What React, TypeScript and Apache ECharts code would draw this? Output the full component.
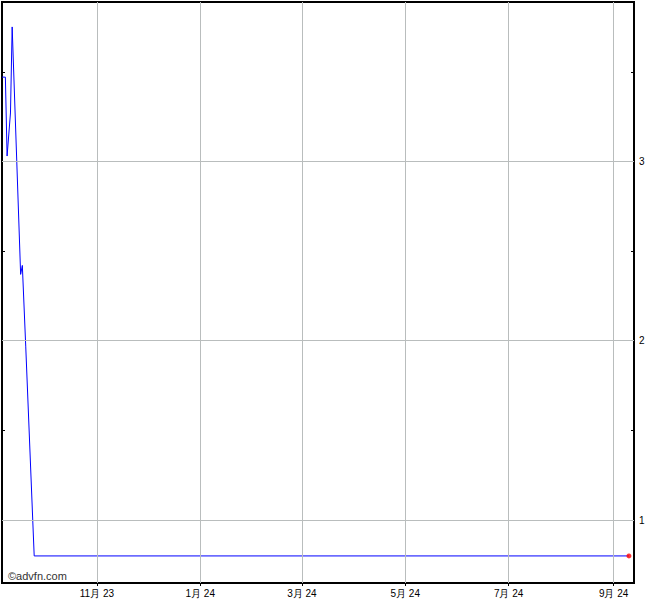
import React, { useEffect, useRef } from "react";
import * as echarts from "echarts";

// Price path (date, value)
const dates: string[] = [
  "2023-09-06", "2023-09-08", "2023-09-09", "2023-09-11", "2023-09-12",
  "2023-09-17", "2023-09-18", "2023-09-20", "2023-09-25", "2024-09-10",
];
const prices: number[] = [3.47, 3.47, 3.03, 3.27, 3.75, 2.37, 2.42, 1.97, 0.8, 0.8];

// Axis ticks
const xTickDates: string[] = ["2023-11-01", "2024-01-01", "2024-03-01", "2024-05-01", "2024-07-01", "2024-09-01"];
const yLabelValues: number[] = [1, 2, 3];
const yTickValues: number[] = [1, 1.5, 2, 2.5, 3, 3.5];
const xRange: string[] = ["2023-09-06", "2024-09-13"];
const yRange: number[] = [0.649, 3.889];

const ts = (d: string) => new Date(d + "T00:00:00Z").getTime();

export default function App() {
  const ref = useRef<HTMLDivElement>(null);
  useEffect(() => {
    if (!ref.current) return;
    const chart = echarts.init(ref.current, null, { renderer: "svg" });
    const lineData = dates.map((d, i) => [ts(d), prices[i]]);
    const last = lineData[lineData.length - 1];
    const xTicks = xTickDates.map(ts);
    const gridColor = "#b9bdbd";
    const font = "Liberation Sans, Arial, sans-serif";
    chart.setOption({
      animation: false,
      backgroundColor: "#fff",
      grid: {
        left: 2,
        right: 36,
        top: 2,
        bottom: 17,
        show: true,
        borderColor: "#000",
        borderWidth: 2,
        backgroundColor: "transparent",
      },
      xAxis: {
        type: "value",
        min: ts(xRange[0]),
        max: ts(xRange[1]),
        axisLine: { show: false },
        splitLine: { show: false },
        axisTick: { show: true, customValues: xTicks, length: 3, lineStyle: { color: "#000" } },
        axisLabel: {
          customValues: xTicks,
          margin: 5,
          fontSize: 10,
          fontFamily: font,
          color: "#000",
          formatter: (v: number) => {
            const d = new Date(v);
            return d.getUTCMonth() + 1 + "月 " + String(d.getUTCFullYear()).slice(2);
          },
        },
      },
      yAxis: [
        {
          type: "value",
          position: "right",
          min: yRange[0],
          max: yRange[1],
          axisLine: { show: false },
          splitLine: { show: false },
          axisTick: { show: true, inside: true, length: 3, customValues: yTickValues, lineStyle: { color: "#000" } },
          axisLabel: { customValues: yLabelValues, margin: 5, fontSize: 10, fontFamily: font, color: "#000" },
        },
        {
          type: "value",
          position: "left",
          min: yRange[0],
          max: yRange[1],
          axisLine: { show: false },
          splitLine: { show: false },
          axisTick: { show: true, inside: true, length: 3, customValues: yTickValues, lineStyle: { color: "#000" } },
          axisLabel: { show: false },
        },
      ],
      series: [
        {
          type: "line",
          data: [],
          z: 1,
          silent: true,
          markLine: {
            silent: true,
            symbol: "none",
            label: { show: false },
            lineStyle: { color: gridColor, type: "solid", width: 1 },
            data: [
              ...xTicks.map((v) => ({ xAxis: v })),
              ...yLabelValues.map((v) => ({ yAxis: v })),
            ],
          },
        },
        {
          type: "line",
          data: lineData,
          z: 3,
          showSymbol: false,
          symbol: "none",
          lineStyle: { color: "#0000ff", width: 1 },
        },
        {
          type: "scatter",
          data: [last],
          z: 4,
          symbolSize: 5,
          itemStyle: { color: "#ff0000" },
        },
      ],
      graphic: [
        {
          type: "text",
          left: 8,
          top: 570,
          style: { text: "©advfn.com", fontSize: 11, fontFamily: font, fill: "#333" },
        },
      ],
    });
    return () => chart.dispose();
  }, []);
  return (
    <div
      ref={ref}
      style={{ position: "fixed", left: 0, top: 0, width: 670, height: 600, background: "#fff" }}
    />
  );
}
